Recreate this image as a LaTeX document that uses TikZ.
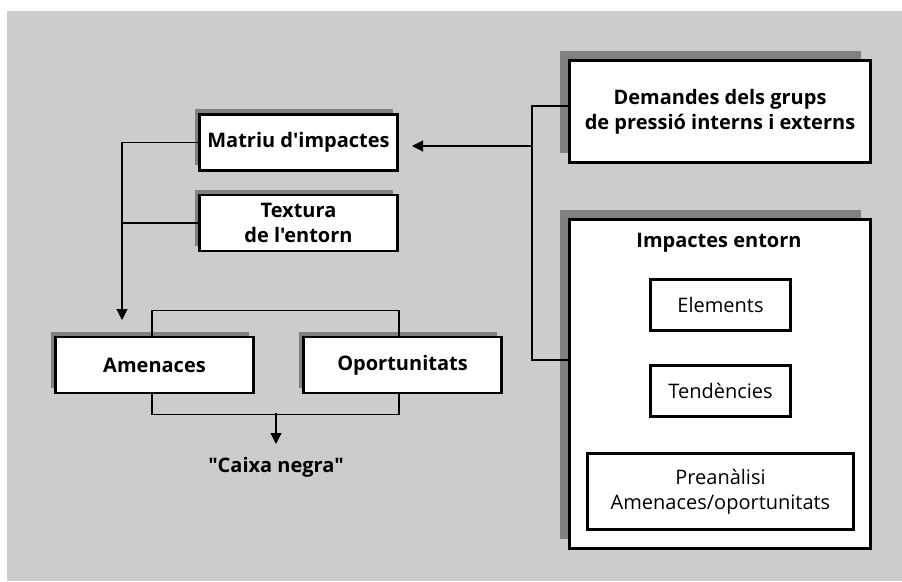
\documentclass[tikz,border=0pt]{standalone}
\usepackage{fontspec}
\setmainfont{Open Sans}[Ligatures=TeXOff]
\usetikzlibrary{arrows.meta,shadows}
\definecolor{panel}{RGB}{204,204,204}
\definecolor{shade}{RGB}{128,128,128}
\begin{document}
\begin{tikzpicture}[x=1pt,y=-1pt,
  txt/.style={font=\fontsize{20}{25}\selectfont},
  bold/.style={font=\fontsize{20}{25}\selectfont\bfseries},
  box/.style={draw=black, line width=2.4pt, fill=white, inner sep=0pt, align=center},
  smallshadow/.style={general shadow={shadow xshift=-5pt, shadow yshift=5.5pt, fill=shade}},
  bigshadow/.style={general shadow={shadow xshift=-10pt, shadow yshift=9.5pt, fill=shade}},
  smallbox/.style={box, smallshadow, bold, minimum width=198pt, minimum height=56pt},
  wire/.style={line width=1.2pt},
  arr/.style={wire, -{Triangle[length=11pt,width=11pt]}},
]
% page and grey panel
\useasboundingbox (0,0) rectangle (902,581);
\fill[white] (0,0) rectangle (902,581);
\fill[panel] (7,11) rectangle (902,581);

% left column
\node[smallbox] (matriu) at (298.5,142.5) {Matriu d'impactes};
\node[smallbox] (textura) at (298.5,223) {Textura\\de l'entorn};
\node[smallbox] (amen) at (154.5,365) {Amenaces};
\node[smallbox] (oport) at (402.5,365) {Oportunitats};
\node[bold] (caixa) at (276,467) {"Caixa negra"};

% right column
\node[box, bigshadow, bold, minimum width=301pt, minimum height=102pt] (demandes) at (720,111.5)
  {Demandes dels grups\\de pressió interns i externs};
\node[box, bigshadow, minimum width=301pt, minimum height=329pt] (impactes) at (720,384) {};
\node[bold] (imptitle) at (719,243) {Impactes entorn};
\node[box, txt, minimum width=140pt, minimum height=51pt] (elements) at (720.5,305) {Elements};
\node[box, txt, minimum width=140pt, minimum height=51pt] (tendencies) at (720.5,391) {Tendències};
\node[box, txt, minimum width=266pt, minimum height=76pt] (preanalisi) at (720.5,491.5)
  {Preanàlisi\\Amenaces/oportunitats};

% connector end points
\coordinate (amenIn) at (122,320);
\coordinate (rbusTop) at (532,106);
\coordinate (rbusBot) at (532,360);
\coordinate (matriuIn) at (412,146);
\coordinate (join) at (276,413);
\coordinate (caixaIn) at (276,444);

% left bus into Amenaces
\draw[arr] (matriu.west) -| (amenIn);
\draw[wire] (textura.west) -- (textura.west -| amenIn);

% brackets joining Amenaces and Oportunitats
\draw[wire] ([xshift=-2.5pt]amen.north) -- ++(0,-25) -| ([xshift=-3.5pt]oport.north);
\draw[wire] ([xshift=-2.5pt]amen.south) -- ++(0,20) -| ([xshift=-3.5pt]oport.south);
\draw[arr] (join) -- (caixaIn);

% right bus feeding Matriu d'impactes
\draw[wire] (demandes.west |- rbusTop) -- (rbusTop) -- (rbusBot) -- (rbusBot -| impactes.west);
\draw[arr] (rbusTop |- matriuIn) -- (matriuIn);
\end{tikzpicture}
\end{document}
